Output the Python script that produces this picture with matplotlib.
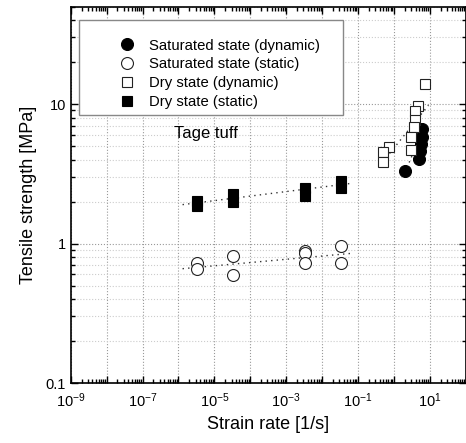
import math
import matplotlib
matplotlib.use('Agg')
import matplotlib.pyplot as plt
from matplotlib.patches import Rectangle
from matplotlib.ticker import LogLocator, FuncFormatter, NullFormatter

plt.rcParams['font.family'] = ['Liberation Sans', 'DejaVu Sans']
plt.rcParams['mathtext.fontset'] = 'custom'
plt.rcParams['mathtext.rm'] = 'Liberation Sans'
plt.rcParams['mathtext.it'] = 'Liberation Sans:italic'
plt.rcParams['mathtext.bf'] = 'Liberation Sans:bold'

# data
sat_dyn_x = [6.1, 5.9, 5.7, 5.4, 4.9, 2.06]
sat_dyn_y = [6.6, 5.8, 5.2, 4.6, 4.05, 3.3]

sat_static_x = [3.3e-6, 3.3e-6, 3.3e-5, 3.3e-5, 3.3e-3, 3.3e-3, 3.3e-3, 3.3e-2, 3.3e-2]
sat_static_y = [0.72, 0.66, 0.82, 0.59, 0.89, 0.85, 0.73, 0.96, 0.73]

dry_dyn_x = [7.26, 4.64, 3.91, 3.83, 3.66, 2.96, 2.96, 0.74, 0.48, 0.48]
dry_dyn_y = [13.9, 9.7, 8.85, 7.7, 6.8, 5.8, 4.7, 4.9, 4.5, 3.83]

dry_static_x = [3.3e-6, 3.3e-6, 3.3e-5, 3.3e-5, 3.3e-3, 3.3e-3, 3.3e-2, 3.3e-2]
dry_static_y = [2.03, 1.87, 2.26, 1.98, 2.52, 2.19, 2.82, 2.51]

# trend line end points
fit_dry_static_x = [1.3e-6, 6.5e-2]
fit_dry_static_y = [1.9, 2.7]
fit_sat_static_x = [1.3e-6, 6.5e-2]
fit_sat_static_y = [0.66, 0.85]
fit_dry_dyn_x = [0.48, 9.1]
fit_dry_dyn_y = [3.83, 9.8]
fit_sat_dyn_x = [2.3, 7.0]
fit_sat_dyn_y = [3.5, 6.9]

fig = plt.figure(figsize=(4.66, 4.43), dpi=100)
ax = fig.add_axes([0.1517, 0.1354, 0.848, 0.8499])

for fx, fy in [(fit_dry_static_x, fit_dry_static_y), (fit_sat_static_x, fit_sat_static_y),
               (fit_dry_dyn_x, fit_dry_dyn_y), (fit_sat_dyn_x, fit_sat_dyn_y)]:
    ax.plot(fx, fy, linestyle=(0, (1, 3)), color='#333333', linewidth=1.0, zorder=2)

ax.plot(sat_dyn_x, sat_dyn_y, 'o', ms=8.6, mfc='black', mec='black', mew=0.8,
        label='Saturated state (dynamic)', zorder=3)
ax.plot(sat_static_x, sat_static_y, 'o', ms=8.6, mfc='white', mec='#222222', mew=0.8,
        label='Saturated state (static)', zorder=3)
ax.plot(dry_dyn_x, dry_dyn_y, 's', ms=7.8, mfc='white', mec='#222222', mew=0.8,
        label='Dry state (dynamic)', zorder=3)
ax.plot(dry_static_x, dry_static_y, 's', ms=7.8, mfc='black', mec='black', mew=0.8,
        label='Dry state (static)', zorder=3)

ax.set_xscale('log')
ax.set_yscale('log')
ax.set_xlim(1e-9, 1e2)
ax.set_ylim(0.1, 50)

ax.xaxis.set_major_locator(LogLocator(base=10, numticks=20))
ax.xaxis.set_minor_locator(LogLocator(base=10, subs=range(2, 10), numticks=20))


def xfmt(v, pos):
    e = int(round(math.log10(v)))
    if e % 2 != 0:
        return r'$10^{%d}$' % e
    return ''


ax.xaxis.set_major_formatter(FuncFormatter(xfmt))
ax.xaxis.set_minor_formatter(NullFormatter())
ax.yaxis.set_major_formatter(FuncFormatter(lambda v, p: '%g' % v))
ax.yaxis.set_minor_formatter(NullFormatter())

ax.tick_params(which='both', direction='in', top=True, right=True, labelsize=10.5, width=1.0)
ax.tick_params(which='major', length=5)
ax.tick_params(which='minor', length=3)
ax.tick_params(axis='x', pad=6)

ax.grid(True, which='major', axis='both', linestyle=':', color='#999999', linewidth=0.8)
ax.grid(True, which='minor', axis='y', linestyle=':', color='#cccccc', linewidth=0.8)
ax.set_axisbelow(True)
for s in ax.spines.values():
    s.set_linewidth(1.2)

ax.set_xlabel('Strain rate [1/s]', fontsize=13, labelpad=4)
ax.set_ylabel('Tensile strength [MPa]', fontsize=13, labelpad=6)

# legend frame drawn separately so the padding can match the original
ax.add_patch(Rectangle((0.021, 0.712), 0.667, 0.252, transform=ax.transAxes,
                       facecolor='white', edgecolor='#888888', linewidth=1.0, zorder=4))
leg = ax.legend(loc='upper left', bbox_to_anchor=(0.1056, 0.915), borderaxespad=0,
                borderpad=0, fontsize=10.75, frameon=False, handletextpad=0.44,
                labelspacing=0.33, handlelength=2.0)
leg.set_zorder(5)

ax.text(6e-6, 6.1, 'Tage tuff', fontsize=12, ha='center', va='center')

fig.savefig('out.png', dpi=100)
